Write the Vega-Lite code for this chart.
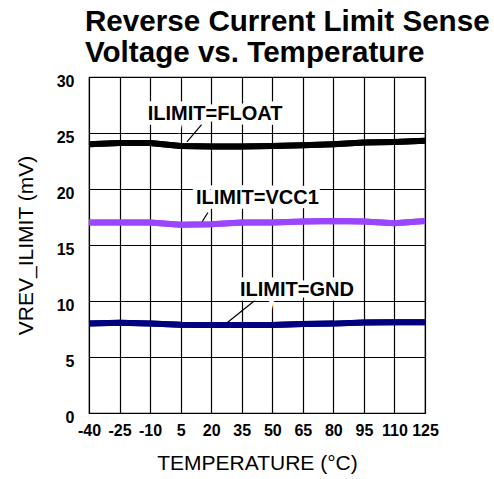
{
  "$schema": "https://vega.github.io/schema/vega-lite/v6.json",
  "width": 336,
  "height": 336,
  "autosize": {"type": "none"},
  "padding": {"left": 89, "top": 77, "right": 69, "bottom": 66},
  "background": "white",
  "title": {
    "text": ["Reverse Current Limit Sense", "Voltage vs. Temperature"],
    "anchor": "start",
    "frame": "group",
    "font": "Liberation Sans",
    "fontSize": 29.6,
    "fontWeight": "bold",
    "color": "black",
    "lineHeight": 31,
    "offset": 4,
    "dx": -4
  },
  "config": {
    "view": {"stroke": "black", "strokeWidth": 1.2},
    "axis": {
      "grid": true,
      "gridColor": "black",
      "gridOpacity": 1,
      "gridWidth": 1.2,
      "ticks": false,
      "domain": false,
      "labelOverlap": false,
      "labelFont": "Liberation Sans",
      "labelFontSize": 16,
      "labelFontWeight": "bold",
      "labelColor": "black",
      "titleFont": "Liberation Sans",
      "titleFontSize": 21,
      "titleFontWeight": "normal",
      "titleColor": "black"
    }
  },
  "datasets": {
    "series": [
      {"temp": -40, "v": 24.0, "s": "FLOAT"},
      {"temp": -25, "v": 24.1, "s": "FLOAT"},
      {"temp": -10, "v": 24.1, "s": "FLOAT"},
      {"temp": 5, "v": 23.85, "s": "FLOAT"},
      {"temp": 20, "v": 23.8, "s": "FLOAT"},
      {"temp": 35, "v": 23.8, "s": "FLOAT"},
      {"temp": 50, "v": 23.85, "s": "FLOAT"},
      {"temp": 65, "v": 23.9, "s": "FLOAT"},
      {"temp": 80, "v": 24.0, "s": "FLOAT"},
      {"temp": 95, "v": 24.15, "s": "FLOAT"},
      {"temp": 110, "v": 24.2, "s": "FLOAT"},
      {"temp": 125, "v": 24.3, "s": "FLOAT"},
      {"temp": -40, "v": 17.0, "s": "VCC1"},
      {"temp": -25, "v": 17.0, "s": "VCC1"},
      {"temp": -10, "v": 17.0, "s": "VCC1"},
      {"temp": 5, "v": 16.8, "s": "VCC1"},
      {"temp": 20, "v": 16.85, "s": "VCC1"},
      {"temp": 35, "v": 17.0, "s": "VCC1"},
      {"temp": 50, "v": 17.0, "s": "VCC1"},
      {"temp": 65, "v": 17.1, "s": "VCC1"},
      {"temp": 80, "v": 17.15, "s": "VCC1"},
      {"temp": 95, "v": 17.1, "s": "VCC1"},
      {"temp": 110, "v": 16.95, "s": "VCC1"},
      {"temp": 125, "v": 17.15, "s": "VCC1"},
      {"temp": -40, "v": 8.0, "s": "GND"},
      {"temp": -25, "v": 8.05, "s": "GND"},
      {"temp": -10, "v": 8.0, "s": "GND"},
      {"temp": 5, "v": 7.87, "s": "GND"},
      {"temp": 20, "v": 7.86, "s": "GND"},
      {"temp": 35, "v": 7.86, "s": "GND"},
      {"temp": 50, "v": 7.85, "s": "GND"},
      {"temp": 65, "v": 7.95, "s": "GND"},
      {"temp": 80, "v": 7.98, "s": "GND"},
      {"temp": 95, "v": 8.08, "s": "GND"},
      {"temp": 110, "v": 8.1, "s": "GND"},
      {"temp": 125, "v": 8.1, "s": "GND"}
    ],
    "leaders": [
      {"x1": 15.5, "y1": 25.8, "x2": 8.1, "y2": 24.2},
      {"x1": 18.4, "y1": 17.9, "x2": 15.5, "y2": 17.05},
      {"x1": 42.5, "y1": 10.2, "x2": 27.8, "y2": 8.05}
    ],
    "labels": [
      {"x": 21.9, "y": 26.7, "label": "ILIMIT=FLOAT"},
      {"x": 42.7, "y": 19.2, "label": "ILIMIT=VCC1"},
      {"x": 62.1, "y": 11.0, "label": "ILIMIT=GND"}
    ]
  },
  "layer": [
    {
      "data": {"name": "series"},
      "mark": {"type": "line", "strokeWidth": 6, "strokeCap": "butt"},
      "encoding": {
        "x": {"field": "temp", "type": "quantitative", "scale": {"domain": [-40, 125], "nice": false, "zero": false},
          "axis": {"values": [-40, -25, -10, 5, 20, 35, 50, 65, 80, 95, 110, 125], "labelExpr": "'' + datum.value", "title": "TEMPERATURE (°C)", "labelPadding": 9, "titlePadding": 14, "labelFlush": false, "labelOverlap": false, "labelBound": false}},
        "y": {"field": "v", "type": "quantitative", "scale": {"domain": [0, 30], "nice": false},
          "axis": {"values": [0, 5, 10, 15, 20, 25, 30], "title": "VREV_ILIMIT (mV)", "labelPadding": 15, "labelOffset": 4, "titlePadding": 20, "labelFlush": false}},
        "color": {"field": "s", "type": "nominal", "scale": {"domain": ["FLOAT", "VCC1", "GND"], "range": ["#000000", "#9b45ff", "#000080"]}, "legend": null}
      }
    },
    {
      "data": {"name": "leaders"},
      "mark": {"type": "rule", "color": "black", "strokeWidth": 1.2},
      "encoding": {
        "x": {"field": "x1", "type": "quantitative", "axis": {"values": [-40, -25, -10, 5, 20, 35, 50, 65, 80, 95, 110, 125]}},
        "y": {"field": "y1", "type": "quantitative"},
        "x2": {"field": "x2"},
        "y2": {"field": "y2"}
      }
    },
    {
      "data": {"name": "labels"},
      "mark": {"type": "text", "font": "Liberation Sans", "fontSize": 20, "fontWeight": "bold", "stroke": "white", "strokeWidth": 9, "strokeJoin": "miter", "fill": "white", "align": "center", "baseline": "middle"},
      "encoding": {
        "x": {"field": "x", "type": "quantitative", "axis": {"values": [-40, -25, -10, 5, 20, 35, 50, 65, 80, 95, 110, 125]}},
        "y": {"field": "y", "type": "quantitative"},
        "text": {"field": "label"}
      }
    },
    {
      "data": {"name": "labels"},
      "mark": {"type": "text", "font": "Liberation Sans", "fontSize": 20, "fontWeight": "bold", "color": "black", "align": "center", "baseline": "middle"},
      "encoding": {
        "x": {"field": "x", "type": "quantitative", "axis": {"values": [-40, -25, -10, 5, 20, 35, 50, 65, 80, 95, 110, 125]}},
        "y": {"field": "y", "type": "quantitative"},
        "text": {"field": "label"}
      }
    },
    {
      "data": {"name": "series"},
      "mark": {"type": "line", "strokeWidth": 6, "strokeCap": "butt"},
      "encoding": {
        "x": {"field": "temp", "type": "quantitative", "axis": {"values": [-40, -25, -10, 5, 20, 35, 50, 65, 80, 95, 110, 125]}},
        "y": {"field": "v", "type": "quantitative"},
        "color": {"field": "s", "type": "nominal", "legend": null}
      }
    }
  ]
}
